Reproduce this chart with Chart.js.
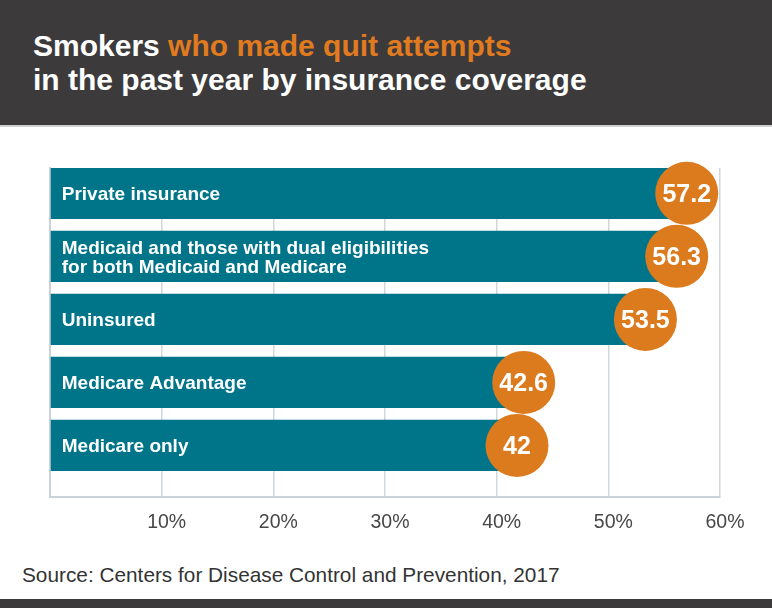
<!DOCTYPE html>
<html>
<head>
<meta charset="utf-8">
<script src="https://cdn.jsdelivr.net/npm/chart.js@4.4.0/dist/chart.umd.min.js"></script>
<style>
  html, body { margin: 0; padding: 0; background: #ffffff; }
  #wrap { position: relative; width: 772px; height: 608px; overflow: hidden; background: #ffffff; }
  #header { position: absolute; left: 0; top: 0; width: 772px; height: 125px; background: #3c3a3b; border-bottom: 2px solid #cfcfcf; }
  #title { position: absolute; left: 33px; top: 29px; margin: 0; font-family: "Liberation Sans", Arial, sans-serif; font-weight: bold; font-size: 30px; line-height: 34px; color: #ffffff; white-space: nowrap; }
  #title .hl { color: #e07b1f; }
  #source { position: absolute; left: 22px; top: 564px; font-family: "Liberation Sans", Arial, sans-serif; font-size: 20.8px; line-height: 21px; color: #333333; white-space: nowrap; }
  #footer { position: absolute; left: 0; top: 599px; width: 772px; height: 9px; background: #3c3a3b; }
  canvas { position: absolute; left: 0; top: 0; }
</style>
</head>
<body>
<div id="wrap">
  <div id="header">
    <h1 id="title">Smokers <span class="hl">who made quit attempts</span><br>in the past year by insurance coverage</h1>
  </div>
  <div id="source">Source: Centers for Disease Control and Prevention, 2017</div>
  <div id="footer"></div>
  <canvas id="c" width="772" height="608"></canvas>
</div>
<script>
const categories = [
  'Private insurance',
  ['Medicaid and those with dual eligibilities', 'for both Medicaid and Medicare'],
  'Uninsured',
  'Medicare Advantage',
  'Medicare only'
];
const values = [57.2, 56.3, 53.5, 42.6, 42];
const xTicks = [0, 10, 20, 30, 40, 50, 60];

const TEAL = '#00758a';
const ORANGE = '#dc7a1e';
const FONT = '"Liberation Sans", Arial, sans-serif';

const labelPlugin = {
  id: 'barLabels',
  afterDatasetsDraw(chart) {
    const ctx = chart.ctx;
    const meta = chart.getDatasetMeta(0);
    meta.data.forEach((bar, i) => {
      const lines = Array.isArray(categories[i]) ? categories[i] : [categories[i]];
      ctx.save();
      const fs = 19;
      ctx.font = 'bold ' + fs + 'px ' + FONT;
      ctx.fillStyle = '#ffffff';
      ctx.textAlign = 'left';
      ctx.textBaseline = 'alphabetic';
      const lh = 19;
      const cap = fs * 0.716;
      const first = bar.y - (lines.length - 1) * lh / 2 + cap / 2;
      lines.forEach((l, j) => ctx.fillText(l, bar.base + 11, first + j * lh));

      ctx.beginPath();
      ctx.arc(bar.x - 2, bar.y, 31.5, 0, Math.PI * 2);
      ctx.fillStyle = ORANGE;
      ctx.fill();

      const vs = 25;
      ctx.font = 'bold ' + vs + 'px ' + FONT;
      ctx.fillStyle = '#ffffff';
      ctx.textAlign = 'center';
      ctx.fillText(String(values[i]), bar.x - 2, bar.y + vs * 0.716 / 2);
      ctx.restore();
    });
  }
};

new Chart(document.getElementById('c'), {
  type: 'bar',
  data: {
    datasets: [{
      data: values.map((v, i) => ({ x: v, y: i })),
      backgroundColor: TEAL,
      borderWidth: 0,
      barPercentage: 0.813,
      categoryPercentage: 1
    }]
  },
  options: {
    indexAxis: 'y',
    responsive: false,
    animation: false,
    layout: { padding: { left: 50, right: 52, top: 168, bottom: 60 } },
    plugins: { legend: { display: false }, tooltip: { enabled: false } },
    scales: {
      x: {
        type: 'linear',
        min: 0,
        max: 60,
        afterBuildTicks: (s) => { s.ticks = xTicks.map(v => ({ value: v })); },
        grid: { color: '#cfd8de', lineWidth: 1.5, drawTicks: false },
        border: { color: '#c8d2d8', width: 2 },
        ticks: {
          padding: 14,
          labelOffset: 5,
          color: '#474747',
          font: { family: FONT, size: 19.5 },
          callback: (v) => (v === 0 ? '' : v + '%')
        }
      },
      y: {
        type: 'linear',
        reverse: true,
        offset: false,
        min: -0.4016,
        max: 4.811,
        afterBuildTicks: (s) => { s.ticks = categories.map((c, i) => ({ value: i })); },
        afterFit: (s) => { s.width = 0; },
        grid: { display: false, drawTicks: false, offset: false },
        ticks: { display: false },
        border: { color: '#c8d2d8', width: 2 }
      }
    }
  },
  plugins: [labelPlugin]
});
</script>
</body>
</html>
